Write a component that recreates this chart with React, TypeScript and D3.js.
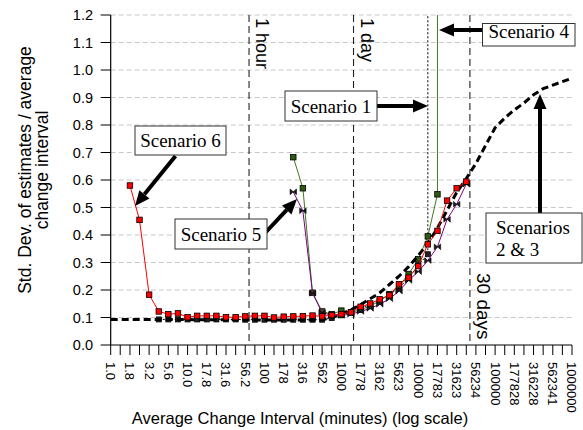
import React from 'react';
import * as d3 from 'd3';

// average change interval (minutes), one point every 1/8 decade
const minutes = [
  1, 1.33, 1.78, 2.37, 3.16, 4.22, 5.62, 7.5, 10, 13.3, 17.8, 23.7, 31.6, 42.2, 56.2, 75,
  100, 133, 178, 237, 316, 422, 562, 750, 1000, 1334, 1778, 2371, 3162, 4217, 5623, 7499,
  10000, 13335, 17783, 23714, 31623, 42170, 56234, 74989, 100000, 133352, 177828, 237137,
  316228, 421697, 562341, 749894, 1000000,
];

const tickLabels = [
  '1.0', '1.8', '3.2', '5.6', '10.0', '17.8', '31.6', '56.2', '100', '178', '316', '562',
  '1000', '1778', '3162', '5623', '10000', '17783', '31623', '56234', '100000', '177828',
  '316228', '562341', '1000000',
];

const yTicks = [0, 0.1, 0.2, 0.3, 0.4, 0.5, 0.6, 0.7, 0.8, 0.9, 1.0, 1.1, 1.2];

// Scenarios 2 & 3 (thick dashed)
const scen23 = [
  0.093, 0.093, 0.093, 0.093, 0.093, 0.093, 0.093, 0.093, 0.093, 0.092, 0.092, 0.092, 0.092,
  0.092, 0.091, 0.091, 0.091, 0.091, 0.091, 0.091, 0.091, 0.091, 0.092, 0.1, 0.113, 0.128,
  0.147, 0.168, 0.19, 0.22, 0.25, 0.285, 0.325, 0.37, 0.425, 0.49, 0.555, 0.605, 0.66, 0.725,
  0.79, 0.825, 0.855, 0.88, 0.91, 0.932, 0.945, 0.958, 0.97,
];

// Scenario 1 (black squares, dotted, goes vertical)
const scen1 = [
  null, null, null, null, null, 0.093, 0.093, 0.093, 0.093, 0.093, 0.093, 0.093, 0.093, 0.093,
  0.092, 0.092, 0.092, 0.092, 0.092, 0.092, 0.092, 0.092, 0.092, 0.098, 0.108, 0.12, 0.133,
  0.148, 0.163, 0.183, 0.208, 0.243, 0.29, 0.33,
];

// Scenario 4 (green squares, goes vertical)
const scen4 = [
  null, null, null, null, null, null, null, null, null, null, null, null, null, null, null,
  null, null, null, null, 0.683, 0.57, 0.19, 0.122, 0.112, 0.125, 0.118, 0.128, 0.142, 0.16,
  0.185, 0.215, 0.258, 0.312, 0.395, 0.548,
];

// Scenario 5 (purple bow-ties)
const scen5 = [
  null, null, null, null, null, null, null, null, null, null, null, null, null, null, null,
  null, null, null, null, 0.557, 0.488, 0.188, 0.118, 0.108, 0.108, 0.112, 0.122, 0.133,
  0.148, 0.168, 0.196, 0.235, 0.267, 0.307, 0.357, 0.457, 0.512, 0.585,
];

// Scenario 6 (red squares)
const scen6 = [
  null, null, 0.58, 0.455, 0.183, 0.122, 0.112, 0.115, 0.101, 0.106, 0.106, 0.106, 0.101,
  0.101, 0.104, 0.106, 0.106, 0.1, 0.103, 0.104, 0.105, 0.107, 0.104, 0.109, 0.112, 0.119,
  0.139, 0.151, 0.166, 0.181, 0.221, 0.245, 0.287, 0.366, 0.415, 0.525, 0.57, 0.594,
];

const timeMarks = [
  { label: '1 hour', minutes: 63 },
  { label: '1 day', minutes: 1440 },
  { label: '30 days', minutes: 47000 },
];

const W = 583;
const H = 430;
const sans = '"Liberation Sans", Arial, sans-serif';
const serif = '"Liberation Serif", "Times New Roman", serif';

const x = d3.scaleLog().domain([1, 1e6]).range([110.7, 572]);
const y = d3.scaleLinear().domain([0, 1.2]).range([345, 15]);

type Pt = { m: number; v: number | null };
const pts = (arr: (number | null)[]): Pt[] => arr.map((v, i) => ({ m: minutes[i], v }));

const line = d3
  .line<Pt>()
  .defined((d) => d.v != null)
  .x((d) => x(d.m))
  .y((d) => y(d.v as number));

const Arrow = ({ x1, y1, x2, y2 }: { x1: number; y1: number; x2: number; y2: number }) => {
  const a = Math.atan2(y2 - y1, x2 - x1);
  const hl = 15;
  const hw = 6.5;
  const bx = x2 - hl * Math.cos(a);
  const by = y2 - hl * Math.sin(a);
  const px = -Math.sin(a) * hw;
  const py = Math.cos(a) * hw;
  return (
    <g>
      <line x1={x1} y1={y1} x2={bx} y2={by} stroke="#000" strokeWidth={4} />
      <path d={`M${x2},${y2}L${bx + px},${by + py}L${bx - px},${by - py}Z`} fill="#000" />
    </g>
  );
};

const Box = ({ x0, y0, w, h, lines }: { x0: number; y0: number; w: number; h: number; lines: string[] }) => (
  <g>
    <rect x={x0} y={y0} width={w} height={h} fill="#fff" stroke="#333" strokeWidth={1} />
    {lines.length === 1 ? (
      <text x={x0 + w / 2} y={y0 + h - 8} textAnchor="middle" fontFamily={serif} fontSize={19}>
        {lines[0]}
      </text>
    ) : (
      lines.map((t, i) => (
        <text key={i} x={x0 + 10} y={y0 + 21 + i * 22} fontFamily={serif} fontSize={19}>
          {t}
        </text>
      ))
    )}
  </g>
);

const Squares = ({ data, fill, size }: { data: Pt[]; fill: string; size: number }) => (
  <g>
    {data
      .filter((d) => d.v != null)
      .map((d, i) => (
        <rect
          key={i}
          x={x(d.m) - size / 2}
          y={y(d.v as number) - size / 2}
          width={size}
          height={size}
          fill={fill}
          stroke="#000"
          strokeWidth={0.8}
        />
      ))}
  </g>
);

export default function App() {
  const s1 = pts(scen1);
  const s4 = pts(scen4);
  const s5 = pts(scen5);
  const s6 = pts(scen6);
  const s23 = pts(scen23);
  const last1 = s1[s1.length - 1];
  const last4 = s4[s4.length - 1];

  return (
    <svg width={W} height={H} style={{ position: 'absolute', left: 0, top: 0, background: '#fff' }}>
      {/* grid */}
      {yTicks.filter((t) => t > 0).map((t) => (
        <line key={t} x1={110.7} x2={572} y1={y(t)} y2={y(t)} stroke="#c8c8c8" strokeDasharray="5,3" />
      ))}

      {/* time markers */}
      {timeMarks.map((tm, i) => {
        const xx = x(tm.minutes);
        const ty = i === 2 ? 273 : 18;
        return (
          <g key={tm.label}>
            <line x1={xx} x2={xx} y1={y(1.2)} y2={y(0)} stroke="#222" strokeWidth={1.1} strokeDasharray="7,4" />
            <text
              transform={`translate(${xx + 7},${ty}) rotate(90)`}
              fontFamily={sans}
              fontSize={i === 2 ? 19 : 18}
            >
              {tm.label}
            </text>
          </g>
        );
      })}

      {/* Scenario 1 */}
      <path d={line(s1) || ''} fill="none" stroke="#000" strokeWidth={1} strokeDasharray="2,2" />
      <line x1={x(last1.m)} x2={x(last1.m)} y1={y(last1.v as number)} y2={y(1.2)} stroke="#000" strokeWidth={1} strokeDasharray="2,2" />
      <Squares data={s1} fill="#222" size={5} />

      {/* Scenario 4 */}
      <path d={line(s4) || ''} fill="none" stroke="#3f7a1f" strokeWidth={1} />
      <line x1={x(last4.m)} x2={x(last4.m)} y1={y(last4.v as number)} y2={y(1.2)} stroke="#3f7a1f" strokeWidth={1} />
      <Squares data={s4} fill="#2f5a0f" size={5.5} />

      {/* Scenarios 2 & 3 */}
      <path d={line(s23) || ''} fill="none" stroke="#000" strokeWidth={3} strokeDasharray="7,4" />

      {/* Scenario 5 */}
      <path d={line(s5) || ''} fill="none" stroke="#800080" strokeWidth={1} />
      {s5.filter((d) => d.v != null).map((d, i) => {
        const cx = x(d.m);
        const cy = y(d.v as number);
        return (
          <path
            key={i}
            d={`M${cx - 3.2},${cy - 2.8}L${cx},${cy}L${cx - 3.2},${cy + 2.8}ZM${cx + 3.2},${cy - 2.8}L${cx},${cy}L${cx + 3.2},${cy + 2.8}Z`}
            fill="#1a1a1a"
            stroke="#000"
            strokeWidth={0.6}
          />
        );
      })}

      {/* Scenario 6 */}
      <path d={line(s6) || ''} fill="none" stroke="#ff0000" strokeWidth={1} />
      <Squares data={s6} fill="#ff0000" size={5.5} />

      {/* axes */}
      <line x1={110.7} x2={110.7} y1={y(1.2)} y2={y(0)} stroke="#000" strokeWidth={1.2} />
      <line x1={110.7} x2={572} y1={y(0)} y2={y(0)} stroke="#000" strokeWidth={1.2} />
      {yTicks.map((t) => (
        <g key={t}>
          <line x1={100.7} x2={110.7} y1={y(t)} y2={y(t)} stroke="#000" />
          <text x={93} y={y(t)} dy="0.35em" textAnchor="end" fontFamily={sans} fontSize={14.5}>
            {t.toFixed(1)}
          </text>
        </g>
      ))}
      {minutes.map((m) => (
        <line key={m} x1={x(m)} x2={x(m)} y1={y(0)} y2={y(0) + 10} stroke="#000" />
      ))}
      {tickLabels.map((lab, i) => (
        <text
          key={lab}
          transform={`translate(${x(minutes[i * 2])},${362}) rotate(90)`}
          dy="0.35em"
          fontFamily={sans}
          fontSize={13}
        >
          {lab}
        </text>
      ))}

      {/* axis titles */}
      <text x={300} y={424} textAnchor="middle" fontFamily={sans} fontSize={16.5}>
        Average Change Interval (minutes) (log scale)
      </text>
      <g transform="translate(0,170) rotate(-90)" fontFamily={sans} fontSize={17.5} textAnchor="middle">
        <text x={0} y={31}>Std. Dev. of estimates / average</text>
        <text x={0} y={48}>change interval</text>
      </g>

      {/* annotations */}
      <Arrow x1={175.5} y1={156} x2={135} y2={206} />
      <Box x0={135} y0={126} w={91} h={29} lines={['Scenario 6']} />

      <Arrow x1={266} y1={232} x2={297} y2={199} />
      <Box x0={175} y0={219} w={92} h={30} lines={['Scenario 5']} />

      <Arrow x1={376} y1={106} x2={428} y2={106} />
      <Box x0={285} y0={91} w={92} h={30} lines={['Scenario 1']} />

      <Arrow x1={483} y1={30} x2={439} y2={30} />
      <Box x0={482.5} y0={23.5} w={92.5} h={22.5} lines={['Scenario 4']} />

      <Arrow x1={540} y1={213} x2={540} y2={94} />
      <Box x0={486} y0={213} w={96} h={50} lines={['Scenarios', '2 & 3']} />
    </svg>
  );
}
